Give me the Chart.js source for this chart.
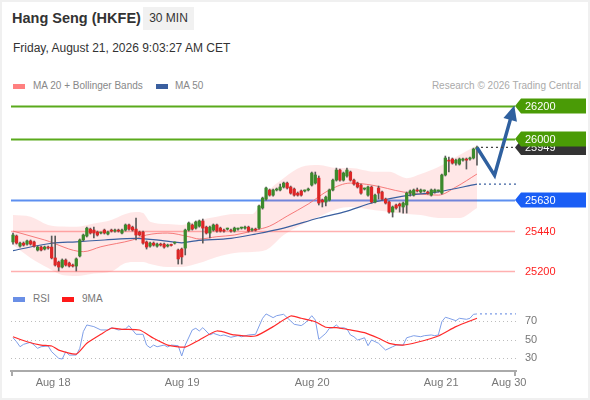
<!DOCTYPE html>
<html><head><meta charset="utf-8">
<script src="https://cdn.jsdelivr.net/npm/chart.js@4.4.1/dist/chart.umd.min.js"></script>
<style>
html,body{margin:0;padding:0;background:#fff;}
#wrap{position:relative;width:590px;height:400px;overflow:hidden;font-family:"Liberation Sans",Arial,sans-serif;background:#fff;}
#frame{position:absolute;left:0;top:0;width:586px;height:396px;border:2px solid #f0f0f0;pointer-events:none;}
.title{position:absolute;left:12px;top:10px;font-size:14.5px;font-weight:bold;color:#333;white-space:nowrap;}
.tf{position:absolute;left:143px;top:7px;width:51px;height:23px;background:#f1f1f1;font-size:12px;color:#333;line-height:23px;text-align:center;}
.date{position:absolute;left:13px;top:41px;font-size:12px;color:#333;white-space:nowrap;}
.leg{position:absolute;font-size:10px;color:#888;white-space:nowrap;}
.sw{position:absolute;width:12px;height:5px;}
canvas{position:absolute;left:0;}
</style></head>
<body>
<div id="wrap">
  <div class="title">Hang Seng (HKFE)</div>
  <div class="tf">30 MIN</div>
  <div class="date">Friday, August 21, 2026 9:03:27 AM CET</div>
  <div class="sw" style="left:13px;top:84px;background:#ff8080;"></div>
  <div class="leg" style="left:33px;top:80px;">MA 20 + Bollinger Bands</div>
  <div class="sw" style="left:156px;top:84px;background:#3a5f9f;"></div>
  <div class="leg" style="left:175px;top:80px;">MA 50</div>
  <div class="leg" style="right:9px;top:80px;color:#aaa;">Research © 2026 Trading Central</div>
  <canvas id="main" width="590" height="200" style="top:90px;"></canvas>
  <div class="sw" style="left:13px;top:297px;background:#6a8fe6;"></div>
  <div class="leg" style="left:33px;top:293px;color:#777;">RSI</div>
  <div class="sw" style="left:62px;top:297px;background:#ff1a1a;"></div>
  <div class="leg" style="left:82px;top:293px;color:#777;">9MA</div>
  <canvas id="rsi" width="590" height="110" style="top:290px;"></canvas>
  <div id="frame"></div>
</div>
<script>
// ---------- DATA ----------
const dayLabels = ['Aug 18', 'Aug 19', 'Aug 20', 'Aug 21', 'Aug 30'];
const dayTickIdx = [11.4, 48.1, 85.1, 121.8, 141.1];

const openP = [25376,25412,25351,25369,25363,25382,25376,25327,25345,25333,
25345,25345,25279,25254,25224,25266,25248,25236,25230,25291,
25388,25412,25454,25448,25436,25430,25448,25424,25448,25442,
25448,25430,25448,25479,25466,25454,25436,25436,25376,25351,
25369,25351,25363,25363,25351,25357,25369,25327,25333,25339,
25448,25479,25460,25472,25503,25466,25430,25448,25479,25460,
25448,25454,25448,25442,25454,25460,25460,25466,25448,25454,
25460,25582,25636,25691,25660,25691,25691,25709,25733,25709,
25697,25672,25685,25685,25691,25721,25733,25763,25630,25618,
25630,25691,25751,25812,25751,25776,25800,25751,25733,25721,
25697,25660,25709,25618,25703,25679,25636,25618,25557,25600,
25606,25588,25600,25672,25660,25691,25679,25685,25679,25660,
25679,25685,25672,25782,25872,25879,25854,25848,25872,25879,
25879,25885,25939];
const highP = [25430,25418,25376,25376,25388,25388,25382,25351,25351,25351,
25351,25412,25412,25260,25273,25273,25254,25242,25279,25394,
25424,25466,25460,25466,25442,25436,25454,25442,25454,25454,
25454,25454,25485,25485,25472,25521,25442,25442,25382,25376,
25376,25369,25369,25369,25363,25363,25376,25333,25339,25454,
25497,25485,25503,25509,25515,25472,25472,25485,25485,25466,
25454,25460,25454,25466,25460,25466,25472,25472,25460,25460,
25600,25648,25709,25697,25697,25703,25727,25739,25739,25715,
25703,25679,25691,25691,25703,25800,25800,25776,25636,25654,
25697,25757,25824,25818,25800,25824,25806,25757,25739,25727,
25703,25715,25715,25666,25715,25685,25642,25624,25594,25606,
25612,25618,25679,25691,25697,25703,25697,25691,25685,25697,
25697,25691,25788,25897,25891,25885,25879,25885,25885,25885,
25891,25945,25957];
const lowP = [25363,25363,25345,25351,25357,25357,25345,25321,25321,25327,
25333,25273,25230,25200,25218,25230,25224,25224,25200,25285,
25382,25406,25424,25400,25412,25424,25424,25418,25436,25436,
25436,25424,25442,25448,25442,25388,25412,25363,25333,25345,
25351,25345,25351,25339,25345,25351,25363,25242,25242,25297,
25442,25448,25454,25466,25369,25424,25400,25442,25436,25436,
25436,25448,25436,25436,25448,25454,25454,25436,25442,25442,
25454,25575,25630,25654,25654,25685,25685,25703,25697,25666,
25654,25654,25654,25679,25685,25715,25727,25600,25588,25594,
25624,25685,25745,25745,25745,25769,25745,25721,25703,25666,
25691,25654,25612,25612,25636,25630,25606,25551,25527,25575,
25557,25551,25551,25654,25654,25679,25672,25679,25666,25654,
25672,25679,25666,25776,25800,25848,25842,25842,25866,25818,
25872,25879,25842];
const closeP = [25418,25369,25369,25357,25382,25363,25351,25345,25327,25345,
25339,25279,25236,25224,25266,25236,25230,25230,25273,25388,
25418,25460,25430,25430,25418,25432,25430,25436,25442,25448,
25442,25448,25479,25454,25448,25418,25418,25369,25345,25369,
25357,25363,25357,25345,25357,25355,25371,25273,25285,25448,
25491,25454,25497,25503,25460,25430,25466,25479,25442,25442,
25442,25456,25442,25460,25454,25460,25466,25442,25454,25448,
25594,25642,25703,25660,25691,25697,25709,25733,25703,25672,
25660,25660,25660,25685,25697,25794,25782,25612,25618,25648,
25691,25751,25812,25751,25794,25812,25751,25727,25709,25672,
25697,25709,25618,25660,25672,25636,25612,25557,25588,25582,
25594,25612,25672,25685,25691,25685,25691,25685,25672,25691,
25691,25685,25782,25885,25866,25854,25872,25879,25879,25872,
25885,25939,25949];

const bandIdx = [0,5,10,14,18,23,28,32,35,37,39,44,48,53,58,63,68,72,77,82,87,92,96,103,107,112,116,121,127,132];
const upperBand = [25539,25529,25479,25469,25468,25488,25509,25545,25557,25551,25499,25485,25479,25509,25529,25545,25545,25672,25763,25830,25842,25824,25824,25801,25801,25763,25788,25830,25903,25963];
const lowerBand = [25357,25279,25218,25176,25170,25185,25197,25248,25254,25254,25242,25224,25224,25248,25285,25309,25315,25327,25418,25479,25529,25575,25588,25569,25559,25545,25539,25521,25521,25582];

const ma20Idx = [0,9,20,25,34,38,44,50,53,58,63,69,73,78,84,90,96,102,111,116,121,126,132];
const ma20 = [25442,25388,25317,25347,25388,25418,25430,25408,25394,25408,25418,25448,25472,25533,25606,25691,25733,25721,25679,25666,25660,25709,25788];
const ma50Idx = [0,11,18,26,35,43,48,52,62,69,77,87,94,103,111,121,132];
const ma50 = [25323,25368,25377,25388,25398,25383,25371,25383,25398,25424,25460,25521,25557,25618,25654,25680,25727];

const levelValues = [26200, 26000, 25630, 25440, 25200];
const lastPrice = 25949;
const forecastIdx = [132, 137, 142.3];
const forecastVal = [25949, 25780, 26180];

const rsiIdx = [0,1,2,3,5,6,7,8,10,11,13,14,15,16,18,19,20,21,23,25,27,28,30,32,33,34,35,37,38,39,40,41,43,44,45,47,48,49,51,52,53,54,56,57,59,60,62,64,65,67,69,71,72,74,75,77,78,80,82,83,84,85,86,87,89,90,91,92,93,94,95,96,97,98,99,100,101,102,104,105,106,108,109,111,112,113,114,116,117,119,120,121,122,123,124,126,127,129,130,131,132];
const rsiVal = [51.9,47.6,42.2,44.8,47,44,40.5,42.2,43,36.8,29.7,28.9,36.8,33.2,33.2,40.5,58.5,65.7,63.9,60.3,60.3,62.8,60.3,61.4,64.9,60.3,55.6,55.6,44,41.1,44,42.2,44,41.9,44,43.3,32.2,44,60.3,62.1,59.2,62.8,54.9,56.7,54.1,54.9,52.4,54.1,53,54.9,55.6,72.9,77.6,73.6,75.7,77.2,73.5,66.4,65,67.5,71.1,75.7,71.1,50.2,56.7,62.1,62.8,65.7,62.1,62.8,61.4,54.9,53,49.5,50.5,51.9,43.3,49.5,45.9,42.2,38.6,42.2,44,44,51.9,53,54.1,53,54.1,54.9,54.1,54.9,69.2,74,72.9,70.3,72.9,71.8,72.9,77.2,77.6];
const rsiMaIdx = [0,4,8,11,13,18,21,25,28,31,36,40,44,49,53,58,63,69,74,79,82,86,89,92,96,100,104,107,111,115,121,126,132];
const rsiMaVal = [53,47.6,44,43,38.6,34.3,45.9,55.6,62.1,61,60.3,51.3,44,41.8,49.5,59.2,54.9,53.8,63.9,75.4,72.9,69.2,63.2,62.8,60.3,57.4,51.3,45.9,44,47,53.8,63.9,72.9];
const rsiTicks = [30, 50, 70];

// ---------- BUILD ----------
const X_MIN = -0.57, X_MAX = 143.1;
const pts = (xs, ys) => xs.map((x, i) => ({x: x, y: ys[i]}));
const bodies = closeP.map((c, i) => ({x: i, y: [openP[i], c]}));
const wicks = closeP.map((c, i) => ({x: i, y: [lowP[i], highP[i]]}));
const candleColors = closeP.map((c, i) => c >= openP[i] ? '#3b8a2c' : '#dc2626');
const FONT = '"Liberation Sans", Arial, sans-serif';

function tag(ctx, xTip, y, w, h, color) {
  ctx.beginPath();
  ctx.moveTo(xTip, y);
  ctx.lineTo(xTip + 6, y - h / 2);
  ctx.lineTo(xTip + w, y - h / 2);
  ctx.lineTo(xTip + w, y + h / 2);
  ctx.lineTo(xTip + 6, y + h / 2);
  ctx.closePath();
  ctx.fillStyle = color;
  ctx.fill();
}

const mainPlugin = {
  id: 'mainDecor',
  beforeDatasetsDraw(chart) {
    const {ctx, chartArea: a, scales: {y}} = chart;
    const styles = [['#5aaa1c', 2], ['#5aaa1c', 2], ['#5d8ff0', 2], ['#ffb0b0', 1.5], ['#ffb0b0', 1.5]];
    ctx.save();
    levelValues.forEach((v, i) => {
      const py = Math.round(y.getPixelForValue(v)) + 0.5;
      ctx.strokeStyle = styles[i][0];
      ctx.lineWidth = styles[i][1];
      ctx.beginPath(); ctx.moveTo(a.left, py); ctx.lineTo(a.right - 1, py); ctx.stroke();
    });
    ctx.restore();
  },
  afterDatasetsDraw(chart) {
    const {ctx, chartArea: a, scales: {x, y}} = chart;
    ctx.save();
    const xLast = x.getPixelForValue(closeP.length - 1);
    ctx.setLineDash([2, 3]);
    ctx.lineWidth = 1.3;
    ctx.strokeStyle = '#444';
    let py = y.getPixelForValue(lastPrice);
    ctx.beginPath(); ctx.moveTo(xLast + 4, py); ctx.lineTo(a.right, py); ctx.stroke();
    ctx.strokeStyle = '#3a5f9f';
    py = y.getPixelForValue(ma50[ma50.length - 1]);
    ctx.beginPath(); ctx.moveTo(xLast + 2, py); ctx.lineTo(a.right, py); ctx.stroke();
    ctx.setLineDash([]);
    const n = forecastIdx.length;
    const p1 = {x: x.getPixelForValue(forecastIdx[n - 2]), y: y.getPixelForValue(forecastVal[n - 2])};
    const p2 = {x: x.getPixelForValue(forecastIdx[n - 1]), y: y.getPixelForValue(forecastVal[n - 1])};
    const len = Math.hypot(p2.x - p1.x, p2.y - p1.y);
    const dx = (p2.x - p1.x) / len, dy = (p2.y - p1.y) / len;
    const tip = {x: p2.x + dx * 4, y: p2.y + dy * 4};
    const bx = tip.x - dx * 15, by = tip.y - dy * 15;
    ctx.fillStyle = '#2f609f';
    ctx.beginPath();
    ctx.moveTo(tip.x, tip.y);
    ctx.lineTo(bx - dy * 7, by + dx * 7);
    ctx.lineTo(bx + dy * 7, by - dx * 7);
    ctx.closePath(); ctx.fill();
    const xTip = a.right - 1, w = 71, h = 15;
    ctx.font = '11px ' + FONT;
    ctx.textBaseline = 'middle';
    ctx.textAlign = 'left';
    const tags = [[lastPrice, '#333333'], [levelValues[0], '#4a9b06'], [levelValues[1], '#4a9b06'], [levelValues[2], '#1a5ef5']];
    tags.forEach(([v, col]) => {
      const ty = y.getPixelForValue(v);
      tag(ctx, xTip, ty, w, h, col);
      ctx.fillStyle = '#fff';
      ctx.fillText(String(v), xTip + 10, ty + 0.5);
    });
    ctx.fillStyle = '#ff2020';
    [levelValues[3], levelValues[4]].forEach(v => {
      ctx.fillText(String(v), xTip + 10, y.getPixelForValue(v) + 0.5);
    });
    ctx.restore();
  }
};

new Chart(document.getElementById('main'), {
  type: 'bar',
  data: {
    datasets: [
      {type: 'line', data: pts(bandIdx, upperBand), borderWidth: 0, pointRadius: 0, fill: '+1',
       backgroundColor: 'rgba(255,70,70,0.13)', cubicInterpolationMode: 'monotone', order: 10},
      {type: 'line', data: pts(bandIdx, lowerBand), borderWidth: 0, pointRadius: 0, fill: false,
       cubicInterpolationMode: 'monotone', order: 11},
      {type: 'line', data: pts(ma20Idx, ma20), borderColor: 'rgba(245,110,110,0.9)', borderWidth: 1,
       pointRadius: 0, cubicInterpolationMode: 'monotone', order: 5},
      {type: 'line', data: pts(ma50Idx, ma50), borderColor: '#3a5f9f', borderWidth: 1.2,
       pointRadius: 0, cubicInterpolationMode: 'monotone', order: 4},
      {type: 'bar', data: wicks, backgroundColor: '#5a5a5a', barThickness: 1, grouped: false, order: 3},
      {type: 'bar', data: bodies, backgroundColor: candleColors, barThickness: 2.6, grouped: false,
       minBarLength: 1, order: 2},
      {type: 'line', data: pts(forecastIdx, forecastVal), borderColor: '#2f609f', borderWidth: 3.5,
       pointRadius: 0, tension: 0, borderJoinStyle: 'miter', order: 0}
    ]
  },
  options: {
    responsive: false, animation: false, events: [],
    layout: {padding: {left: 11, right: 74, top: 6, bottom: 5}},
    plugins: {legend: {display: false}, tooltip: {enabled: false}},
    scales: {
      x: {type: 'linear', min: X_MIN, max: X_MAX, display: false, offset: false},
      y: {type: 'linear', min: 25115, max: 26261, display: false}
    }
  },
  plugins: [mainPlugin]
});

const rsiPlugin = {
  id: 'rsiDecor',
  beforeDatasetsDraw(chart) {
    const {ctx, chartArea: a, scales: {y}} = chart;
    ctx.save();
    ctx.strokeStyle = '#bdbdbd'; ctx.lineWidth = 1; ctx.setLineDash([1, 3]);
    rsiTicks.forEach(v => {
      const py = Math.round(y.getPixelForValue(v)) + 0.5;
      ctx.beginPath(); ctx.moveTo(a.left, py); ctx.lineTo(a.right, py); ctx.stroke();
    });
    ctx.restore();
  },
  afterDatasetsDraw(chart) {
    const {ctx, chartArea: a, scales: {x, y}} = chart;
    ctx.save();
    ctx.strokeStyle = '#7b9be6'; ctx.lineWidth = 1.2; ctx.setLineDash([2, 3]);
    const py = y.getPixelForValue(rsiVal[rsiVal.length - 1]);
    ctx.beginPath(); ctx.moveTo(x.getPixelForValue(rsiIdx[rsiIdx.length - 1]) + 3, py); ctx.lineTo(a.right, py); ctx.stroke();
    ctx.setLineDash([]);
    ctx.strokeStyle = '#aaa'; ctx.lineWidth = 2;
    ctx.beginPath();
    ctx.moveTo(a.left + 1, a.bottom); ctx.lineTo(a.left + 1, a.bottom + 5);
    ctx.moveTo(a.right - 1, a.bottom); ctx.lineTo(a.right - 1, a.bottom + 5);
    ctx.stroke();
    ctx.restore();
  }
};

new Chart(document.getElementById('rsi'), {
  type: 'line',
  data: {
    datasets: [
      {data: pts(rsiMaIdx, rsiMaVal), borderColor: '#ff2a2a', borderWidth: 1.2, pointRadius: 0, tension: 0.2, order: 1},
      {data: pts(rsiIdx, rsiVal), borderColor: '#7f9fe8', borderWidth: 1, pointRadius: 0, tension: 0, order: 2}
    ]
  },
  options: {
    responsive: false, animation: false, events: [],
    layout: {padding: {left: 11, right: 0, top: 18, bottom: 0}},
    plugins: {legend: {display: false}, tooltip: {enabled: false}},
    scales: {
      x: {
        type: 'linear', min: X_MIN, max: X_MAX, offset: false,
        grid: {display: false, drawTicks: false},
        border: {display: true, color: '#aaa', width: 2},
        afterBuildTicks: s => { s.ticks = dayTickIdx.map(v => ({value: v})); },
        afterFit: s => { s.height = 29; },
        ticks: {color: '#777', font: {size: 11, family: FONT}, padding: 5, autoSkip: false, maxRotation: 0,
                callback: (v, i) => dayLabels[i]}
      },
      y: {
        type: 'linear', position: 'right', min: 16, max: 84,
        grid: {display: false, drawTicks: false},
        border: {display: false},
        afterBuildTicks: s => { s.ticks = rsiTicks.map(v => ({value: v})); },
        afterFit: s => { s.width = 74; },
        ticks: {color: '#777', font: {size: 11, family: FONT}, padding: 9}
      }
    }
  },
  plugins: [rsiPlugin]
});
</script>
</body></html>
